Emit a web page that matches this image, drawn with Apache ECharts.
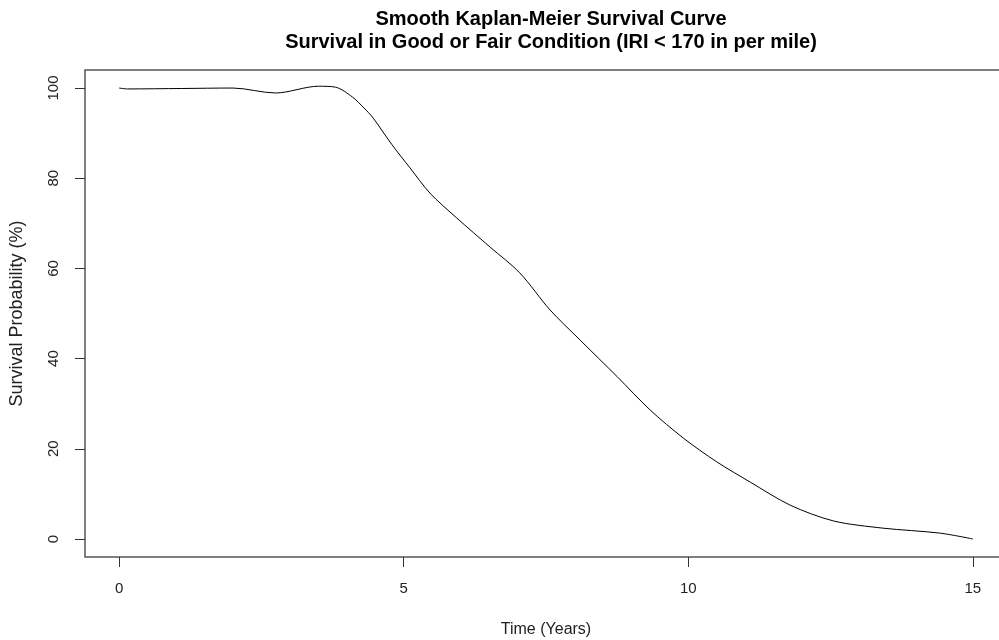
<!DOCTYPE html>
<html>
<head>
<meta charset="utf-8">
<script src="https://cdn.jsdelivr.net/npm/echarts@6/dist/echarts.min.js"></script>
<style>
  html, body { margin: 0; padding: 0; background: #fff; }
  #main { width: 999px; height: 640px; }
</style>
</head>
<body>
<div id="main"></div>
<script>
// time axis (years) and smoothed survival (%)
var years = [0, 0.15, 1.1, 2.0, 2.75, 3.5, 3.8, 4.1, 4.3, 4.46, 4.79, 5.11, 5.46, 5.93,
  6.52, 7.04, 7.57, 8.1, 8.75, 9.33, 9.91, 10.5, 11.09, 11.79, 12.55, 13.42, 14.42, 15.0];
var survival = [100, 99.8, 99.9, 100, 98.9, 100.4, 100.2, 98.0, 95.6, 93.4, 87.5, 82.3, 76.7, 71.2,
  64.7, 59, 50.8, 44.1, 36, 28.6, 22.4, 17.1, 12.6, 7.5, 4.0, 2.4, 1.3, 0];
var xTicks = [0, 5, 10, 15];
var yTicks = [0, 20, 40, 60, 80, 100];

var points = [];
for (var i = 0; i < years.length; i++) {
  points.push([years[i], survival[i]]);
}

var myChart = echarts.init(document.getElementById('main'));
var font = 'Liberation Sans, Arial, sans-serif';

var option = {
  animation: false,
  backgroundColor: '#fff',
  title: {
    text: 'Smooth Kaplan-Meier Survival Curve\nSurvival in Good or Fair Condition (IRI < 170 in per mile)',
    left: 546,
    top: 3,
    textAlign: 'center',
    textStyle: { fontFamily: font, fontSize: 20, fontWeight: 'bold', color: '#000', lineHeight: 23 }
  },
  grid: {
    left: 85, top: 70, width: 922, height: 487,
    outerBoundsMode: 'none',
    containLabel: false,
    show: true, borderColor: '#555', borderWidth: 1.5
  },
  xAxis: {
    type: 'value',
    min: -0.6, max: 15.6,
    name: 'Time (Years)',
    nameLocation: 'middle',
    nameGap: 65,
    nameTextStyle: { fontFamily: font, fontSize: 16, color: '#222' },
    axisLine: { show: false, onZero: false },
    splitLine: { show: false },
    axisTick: { show: true, length: 10, customValues: xTicks, lineStyle: { color: '#333' } },
    axisLabel: { customValues: xTicks, margin: 24, fontFamily: font, fontSize: 15, color: '#222' }
  },
  yAxis: {
    type: 'value',
    min: -4, max: 104,
    name: 'Survival Probability (%)',
    nameLocation: 'middle',
    nameGap: 59,
    nameRotate: 90,
    nameTextStyle: { fontFamily: font, fontSize: 18, color: '#222' },
    axisLine: { show: false, onZero: false },
    splitLine: { show: false },
    axisTick: { show: true, length: 10, customValues: yTicks, lineStyle: { color: '#333' } },
    axisLabel: { customValues: yTicks, rotate: 90, margin: 24, fontFamily: font, fontSize: 15, color: '#222' }
  },
  series: [{
    type: 'line',
    data: points,
    showSymbol: false,
    smooth: 0.3,
    lineStyle: { color: '#000', width: 1 }
  }]
};

myChart.setOption(option);
</script>
</body>
</html>
